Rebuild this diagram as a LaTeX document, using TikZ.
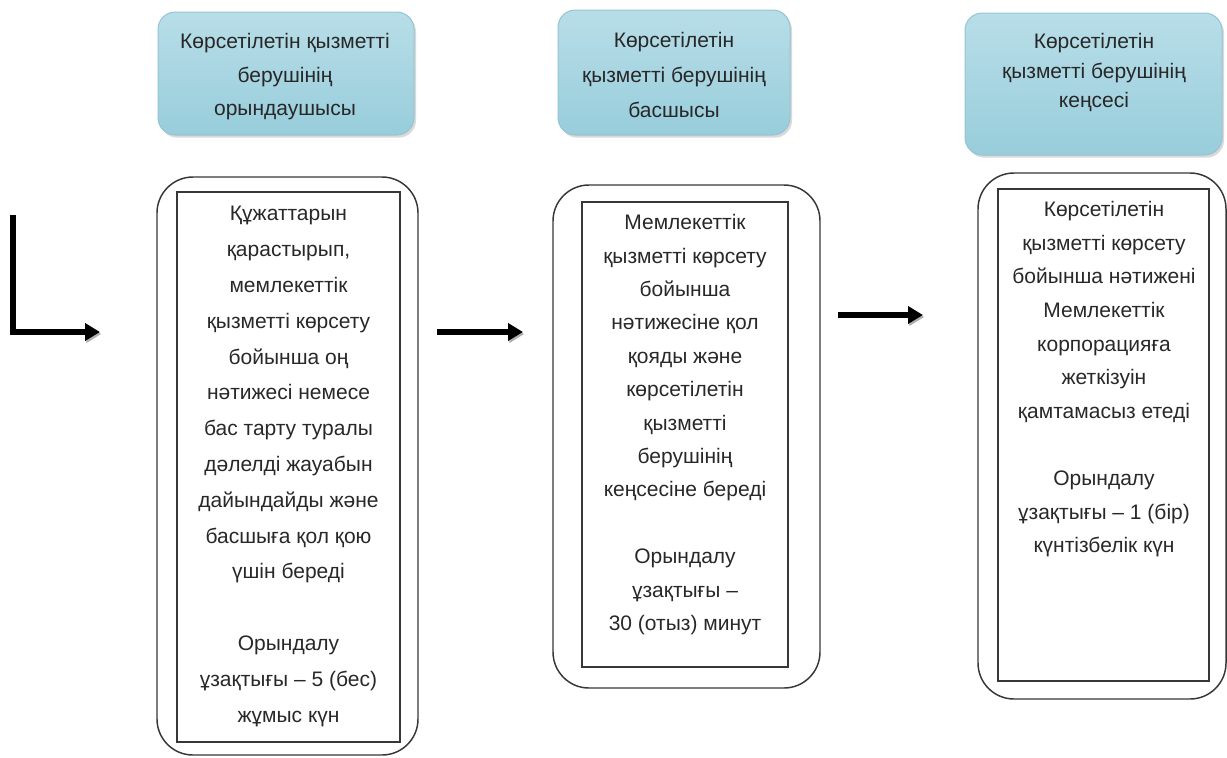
\documentclass[tikz,border=0pt]{standalone}
\usepackage{fontspec}
\setmainfont{Liberation Sans}
\usetikzlibrary{arrows.meta,shadows}

\definecolor{txtgray}{RGB}{40,40,40}
\definecolor{hdrtop}{RGB}{184,222,232}
\definecolor{hdrmid}{RGB}{228,242,246}
\definecolor{hdrbot}{RGB}{152,205,219}
\definecolor{hdrline}{RGB}{150,196,210}
\definecolor{boxline}{RGB}{55,55,55}
\definecolor{arrowshade}{RGB}{175,175,175}

\tikzset{every picture/.style={line width=0.75pt}}
\tikzset{
  hdrbox/.style={rounded corners=13pt, draw=hdrline, top color=hdrtop, middle color=hdrmid, bottom color=hdrbot,
    drop shadow={opacity=0.3, shadow xshift=1.5pt, shadow yshift=-2pt}, inner sep=0pt},
  outerbox/.style={draw=boxline, line width=1.1pt, rounded corners=27pt, inner sep=0pt},
  innerbox/.style={draw=boxline, line width=1.1pt, inner sep=0pt},
  txt/.style={anchor=north, align=center, inner sep=0pt, text=txtgray},
  flowarrow/.style={line width=4.5pt, -{Triangle[length=11.25pt,width=12.75pt]},
    preaction={draw=arrowshade, transform canvas={shift={(1pt,-1.5pt)}}}}
}

\begin{document}
\begin{tikzpicture}[x=0.75pt,y=0.75pt,yscale=-1,xscale=1]
\useasboundingbox (0,0) rectangle (1227,757);

%Header boxes
\node [hdrbox, minimum width=192pt, minimum height=92.25pt] (hdrA) at (286,73.5) {};
\node [hdrbox, minimum width=174pt, minimum height=93.75pt] (hdrB) at (674,72.5) {};
\node [hdrbox, minimum width=192.75pt, minimum height=106.5pt] (hdrC) at (1093.5,84) {};

% Header texts
\node [txt, font=\fontsize{15.75}{25.2}\selectfont] (hdrAtxt) at (285,33) {Көрсетілетін қызметті\\берушінің\\орындаушысы};
\node [txt, font=\fontsize{15.75}{26}\selectfont] (hdrBtxt) at (674,32) {Көрсетілетін\\қызметті берушінің\\басшысы};
\node [txt, font=\fontsize{15.75}{22}\selectfont] (hdrCtxt) at (1094,33) {Көрсетілетін\\қызметті берушінің\\кеңсесі};

%Step boxes
\node [outerbox, minimum width=195.75pt, minimum height=433.5pt] (stepA) at (287.5,466) {};
\node [innerbox, minimum width=167.25pt, minimum height=412.5pt] (stepAin) at (288.5,467) {};
\node [outerbox, minimum width=200.25pt, minimum height=377.25pt] (stepB) at (686.5,436.5) {};
\node [innerbox, minimum width=154.5pt, minimum height=348.75pt] (stepBin) at (685,434.5) {};
\node [outerbox, minimum width=186pt, minimum height=394.5pt] (stepC) at (1102,436) {};
\node [innerbox, minimum width=158.25pt, minimum height=369pt] (stepCin) at (1103.5,435) {};

% Step texts
\node [txt, font=\fontsize{15.75}{26.85}\selectfont] (stepAtxt) at (288.5,206) {Құжаттарын\\қарастырып,\\мемлекеттік\\қызметті көрсету\\бойынша оң\\нәтижесі немесе\\бас тарту туралы\\дәлелді жауабын\\дайындайды және\\басшыға қол қою\\үшін береді\\[26.85pt]Орындалу\\ұзақтығы – 5 (бес)\\жұмыс күн};
\node [txt, font=\fontsize{15.75}{25.05}\selectfont] (stepBtxt) at (685,214) {Мемлекеттік\\қызметті көрсету\\бойынша\\нәтижесіне қол\\қояды және\\көрсетілетін\\қызметті\\берушінің\\кеңсесіне береді\\[25.05pt]Орындалу\\ұзақтығы –\\30 (отыз) минут};
\node [txt, font=\fontsize{15.75}{25.2}\selectfont] (stepCtxt) at (1104,201) {Көрсетілетін\\қызметті көрсету\\бойынша нәтижені\\Мемлекеттік\\корпорацияға\\жеткізуін\\қамтамасыз етеді\\[25.2pt]Орындалу\\ұзақтығы – 1 (бір)\\күнтізбелік күн};

%Arrows
\coordinate (startTop) at (13,215);
\coordinate (startEnd) at (100,332);
\coordinate (arrAfrom) at (437,332);
\coordinate (arrAto) at (523,332);
\coordinate (arrBfrom) at (838,315);
\coordinate (arrBto) at (923,315);
\draw [flowarrow] (startTop) |- (startEnd);
\draw [flowarrow] (arrAfrom) -- (arrAto);
\draw [flowarrow] (arrBfrom) -- (arrBto);

\end{tikzpicture}
\end{document}
